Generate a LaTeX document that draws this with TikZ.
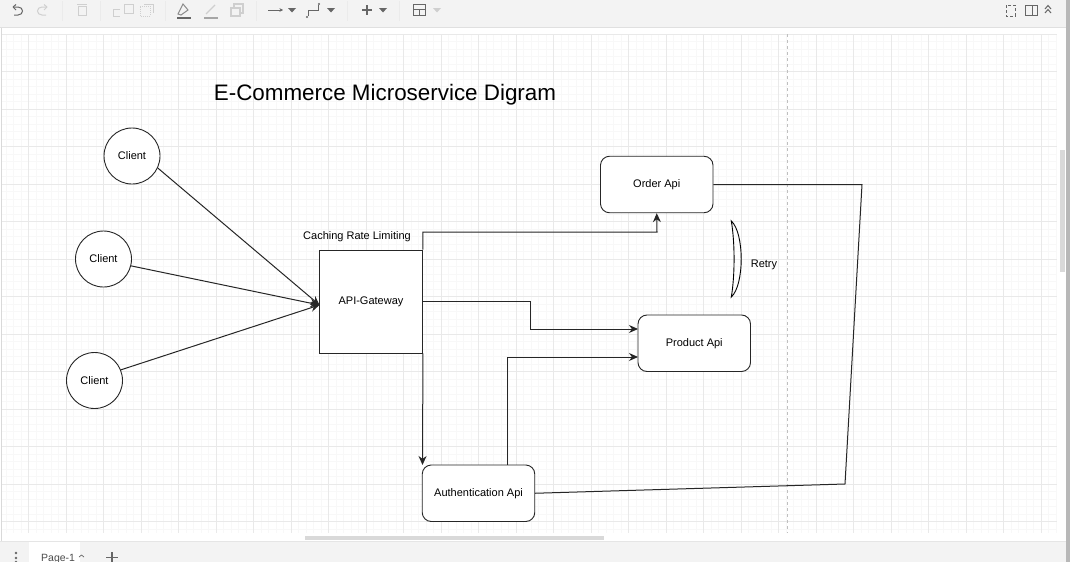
\documentclass[tikz,border=0pt]{standalone}
\usepackage{fontspec}
\setmainfont{Liberation Sans}
\usepackage{xcolor}
\usepackage{tikz}
\usetikzlibrary{arrows.meta}

\definecolor{barbg}{HTML}{F3F3F3}
\definecolor{minorgrid}{HTML}{F8F8F8}
\definecolor{majorgrid}{HTML}{E9E9E9}
\definecolor{iconcol}{HTML}{666666}
\definecolor{dimicon}{HTML}{CFCFCF}

\tikzset{
  client/.style={draw=black!85, line width=0.9, circle, fill=white, minimum size=56, inner sep=0, font=\fontsize{11}{13}\selectfont},
  apibox/.style={draw=black!85, line width=0.9, rounded corners=9, fill=white, minimum width=112.5, minimum height=56.5, inner sep=0, font=\fontsize{11}{13}\selectfont},
  gatewaybox/.style={draw=black!85, line width=0.9, fill=white, minimum size=103, inner sep=0, font=\fontsize{11}{13}\selectfont},
  plainlabel/.style={inner sep=0, font=\fontsize{11}{13}\selectfont},
  link/.style={draw=black!85, line width=1},
  linkarrow/.style={link, -{Stealth[length=9,width=8]}},
  icon/.style={draw=iconcol, line width=1},
  dim/.style={draw=dimicon, line width=1},
}

\begin{document}
\begin{tikzpicture}[x=1pt,y=-1pt]
\useasboundingbox (0,0) rectangle (1074,562);
\fill[white] (0,0) rectangle (1074,562);

% grid
\begin{scope}
\clip (2,34) rectangle (1057,533);
\foreach \k in {-3,...,141} \draw[minorgrid, line width=0.6] ({28.3+7.5*\k},34) -- ({28.3+7.5*\k},533);
\foreach \k in {0,...,67} \draw[minorgrid, line width=0.6] (2,{34+7.5*\k}) -- (1057,{34+7.5*\k});
\foreach \k in {0,...,28} \draw[majorgrid, line width=0.6] ({28.3+37.5*\k},34) -- ({28.3+37.5*\k},533);
\foreach \k in {0,...,13} \draw[majorgrid, line width=0.6] (2,{34+37.5*\k}) -- (1057,{34+37.5*\k});
\draw[dashed, draw=black!25, line width=0.7] (787.5,34) -- (787.5,533);
\end{scope}

% bars
\fill[barbg] (0,0) rectangle (1066,27);
\draw[black!12, line width=0.8] (0,27.5) -- (1066,27.5);
\fill[barbg] (0,542) rectangle (1066,562);
\draw[black!10, line width=0.8] (0,541.5) -- (1066,541.5);
\fill[white] (29,542) rectangle (80,562);
\draw[black!15, line width=0.8] (1.5,28) -- (1.5,541);
\fill[black!28] (1066,0) rectangle (1070,562);
\fill[black!15] (1060,150) rectangle (1065,272);
\fill[black!15] (305,535.5) rectangle (604,540);

% toolbar
\foreach \x in {62,100,165,256,347,399} \draw[black!8, line width=0.8] (\x,1) -- (\x,21);
\draw[icon] (13,7) -- (18,7) .. controls (24,7) and (24,15) .. (18,15) -- (14,15);
\draw[icon] (13,7) -- (16,4.5) (13,7) -- (16,10);
\draw[dim] (47,7) -- (42,7) .. controls (36,7) and (36,15) .. (42,15) -- (46,15);
\draw[dim] (47,7) -- (44,4.5) (47,7) -- (44,10);
\draw[dim] (77,4.5) -- (87,4.5) (78,6) rectangle (86,15.5);
\draw[dim] (124,4) rectangle (133,13) (120,9) -- (113,9) -- (113,16) -- (120,16);
\draw[dim, densely dotted] (150,6) rectangle (140,16);
\draw[dim] (144,4) -- (153,4) -- (153,13);
\draw[icon, draw=black!45] (178,14) -- (183,4) -- (188,10) -- (181,15) -- cycle;
\draw[iconcol, line width=1.2] (177,18) -- (191,18);
\draw[dim, line width=1.4] (206,14) -- (215,5);
\draw[black!35, line width=1.2] (204,18) -- (218,18);
\draw[dim, line width=1.2] (231,8) rectangle (240,16) (234,8) -- (234,4) -- (243,4) -- (243,13) -- (240,13);
\draw[icon, -{Stealth[length=3.5,width=3.5]}] (268,10) -- (283,10);
\draw[icon] (308,16) -- (308,10) -- (318,10) -- (318,5);
\fill[iconcol] (307,17) circle (1.2) (319,4) circle (1.2);
\draw[icon, line width=1.2] (362,10) -- (372,10) (367,5) -- (367,15);
\draw[icon] (413,4) rectangle (425,15) (413,9.5) -- (425,9.5) (419,9.5) -- (419,15);
\foreach \x in {292,331,383} \fill[iconcol] (\x-4,8) -- (\x+4,8) -- (\x,12.5) -- cycle;
\fill[dimicon] (433,8) -- (441,8) -- (437,12.5) -- cycle;
\draw[icon, densely dashed, line width=0.9] (1006,5) rectangle (1015,16);
\draw[icon] (1025,5) rectangle (1037,15) (1032,5) -- (1032,15);
\draw[icon] (1045,9) -- (1048,5.5) -- (1051,9) (1045,13) -- (1048,9.5) -- (1051,13);

% page tab
\fill[iconcol] (16,553) circle (1.3) (16,558) circle (1.3) (16,562) circle (1.3);
\node[inner sep=0, anchor=west, text=black!70, font=\fontsize{10.5}{12}\selectfont] (pagetab) at (41,559) {Page-1};
\draw[icon, line width=0.7] (79,557) -- (81.5,555) -- (84,557);
\draw[icon, line width=1.2] (106,557.5) -- (118,557.5) (112,552) -- (112,562);

% title
\node[inner sep=0, font=\fontsize{22.4}{27}\selectfont] (title) at (385,94.5) {E-Commerce Microservice Digram};

% clients
\node[client] (clientA) at (132,156) {Client};
\node[client] (clientB) at (103.5,259) {Client};
\node[client] (clientC) at (94.5,380.5) {Client};

% services
\node[gatewaybox] (gateway) at (371,301.5) {API-Gateway};
\node[apibox] (order) at (656.75,184.5) {Order Api};
\node[apibox] (product) at (694.25,343.25) {Product Api};
\node[apibox] (auth) at (478.5,493.25) {Authentication Api};
\node[plainlabel] (caching) at (357,236.5) {Caching Rate Limiting};
\node[plainlabel] (retrylabel) at (764,264.5) {Retry};

% retry shape
\draw[line width=0.9] (731.3,221) .. controls (744.5,233) and (744.5,285) .. (731.3,297) .. controls (735,275) and (735,243) .. (731.3,221) -- cycle;

% connection points
\coordinate (gatewayin) at (319.5,305);
\coordinate (orderbend) at (657,232);
\coordinate (gatewaybend) at (530,329);
\coordinate (productup) at (638,329);
\coordinate (productlow) at (638,357);
\coordinate (authtop) at (507,465);
\coordinate (authnw) at (422.5,465);
\coordinate (orderout) at (862,184.5);
\coordinate (authout) at (845,484);

% connectors
\draw[linkarrow] (clientA.-25) -- (gatewayin);
\draw[linkarrow] (clientB.-14) -- (gatewayin);
\draw[linkarrow] (clientC.22) -- (gatewayin);
\draw[linkarrow] (gateway.north east) |- (orderbend) -- (order.south);
\draw[linkarrow] (gateway.east) -| (gatewaybend) -- (productup);
\draw[linkarrow] (gateway.south east) -- (authnw);
\draw[linkarrow] (authtop) |- (productlow);
\draw[link] (order.east) -- (orderout) -- (authout) -- (auth.east);
\end{tikzpicture}
\end{document}
